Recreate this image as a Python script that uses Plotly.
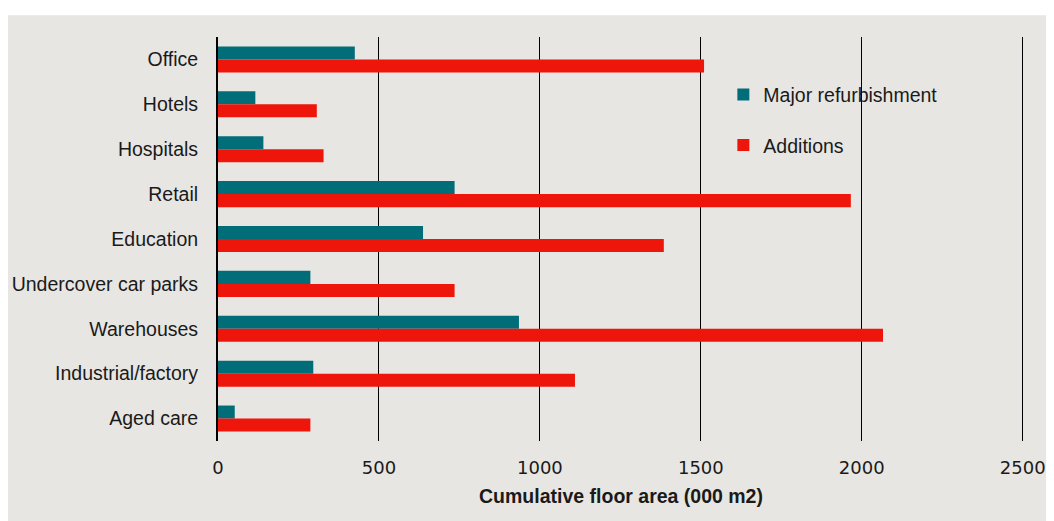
import plotly.graph_objects as go

# building types, top to bottom
categories = ["Office", "Hotels", "Hospitals", "Retail", "Education",
              "Undercover car parks", "Warehouses", "Industrial/factory", "Aged care"]
major_refurb = [425, 116, 141, 735, 637, 287, 935, 296, 52]
additions = [1510, 307, 328, 1966, 1385, 735, 2066, 1109, 287]
x_ticks = [0, 500, 1000, 1500, 2000, 2500]

TEAL = "#006d78"
RED = "#ee150b"
PANEL = "#e8e6e2"
FONT = "Liberation Sans"
TXT = "#1a1a1a"

fig = go.Figure()

fig.add_trace(go.Bar(
    y=categories, x=major_refurb, orientation="h",
    name="Major refurbishment", marker=dict(color=TEAL, line=dict(width=0)),
    legendgroup="a",
))
fig.add_trace(go.Bar(
    y=categories, x=additions, orientation="h",
    name="Additions", marker=dict(color=RED, line=dict(width=0)),
    legendgroup="b",
))

# grey panel behind everything
fig.add_shape(
    type="rect", xref="paper", yref="paper",
    x0=-0.3, x1=1.1, y0=-0.25, y1=1.054,
    fillcolor=PANEL, line=dict(width=0), layer="below",
)

# page body has an 8px margin, so the figure is 8px smaller each way
fig.update_layout(
    width=1046, height=513,
    paper_bgcolor="white",
    plot_bgcolor="rgba(0,0,0,0)",
    margin=dict(l=210, r=30, t=29, b=80, autoexpand=False),
    barmode="group",
    bargap=0.42,
    bargroupgap=0,
    font=dict(family=FONT, size=19.5, color=TXT),
    legend=dict(
        x=0.627, y=0.905, xanchor="left", yanchor="top",
        bgcolor="rgba(0,0,0,0)", traceorder="grouped",
        tracegroupgap=22, itemwidth=30,
        font=dict(family=FONT, size=19.5, color=TXT),
    ),
)

fig.update_xaxes(
    range=[0, 2504], tickvals=x_ticks,
    showgrid=True, gridcolor="black", gridwidth=1,
    zeroline=False, showline=False,
    ticks="", ticklabelstandoff=14, automargin=False,
    tickfont=dict(family="DejaVu Sans", size=18),
    title=dict(text="<b>Cumulative floor area (000 m2)</b>",
               font=dict(size=19.5), standoff=12),
)
fig.update_yaxes(
    categoryorder="array", categoryarray=categories,
    autorange="reversed",
    showgrid=False, zeroline=False,
    showline=True, linecolor="black", linewidth=2,
    ticks="", ticklabelstandoff=14, automargin=False,
    tickfont=dict(size=19.5),
)

fig.write_html("out.html")
